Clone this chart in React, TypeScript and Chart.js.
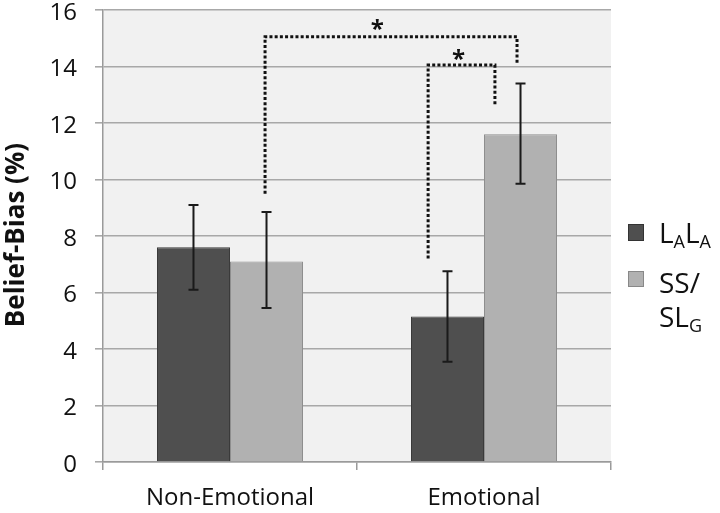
import React, { useEffect, useRef } from "react";
import { Chart, registerables } from "chart.js";

Chart.register(...registerables);

const categories = ["Non-Emotional", "Emotional"];
const seriesNames = ["LALA", "SS/SLG"];
const lalaValues = [7.6, 5.15];
const lalaErrLow = [6.1, 3.55];
const lalaErrHigh = [9.1, 6.75];
const sslgValues = [7.1, 11.6];
const sslgErrLow = [5.45, 9.85];
const sslgErrHigh = [8.85, 13.4];
const yTicks = [0, 2, 4, 6, 8, 10, 12, 14, 16];
const yTitle = "Belief-Bias (%)";

// significance brackets: x in category units, y in data units
const bracketX1 = [0.138, 0.78];
const bracketX2 = [1.13, 1.043];
const bracketYLeft = [9.5, 7.2];
const bracketYTop = [15.05, 14.05];
const bracketYRight = [14.05, 12.6];
const starX = [0.58, 0.9];
const starY = [15.5, 14.45];
const starLabel = ["*", "*"];

const FONT = "'Open Sans', sans-serif";
const DARK = "#4f4f4f";
const LIGHT = "#b1b1b1";

export default function App() {
  const ref = useRef<HTMLCanvasElement>(null);
  useEffect(() => {
    document.body.style.margin = "0";
    const canvas = ref.current!;
    const xPix = (chart: any, v: number) => {
      const xs = chart.scales.x;
      const p0 = xs.getPixelForValue(0);
      const p1 = xs.getPixelForValue(1);
      return p0 + v * (p1 - p0);
    };
    const plugin = {
      id: "custom",
      beforeDraw(chart: any) {
        const { ctx, chartArea } = chart;
        ctx.save();
        ctx.fillStyle = "#f1f1f1";
        ctx.fillRect(chartArea.left, chartArea.top, chartArea.right - chartArea.left, chartArea.bottom - chartArea.top);
        ctx.restore();
      },
      afterDatasetsDraw(chart: any) {
        const { ctx } = chart;
        const ys = chart.scales.y;
        ctx.save();
        // error bars
        const groups = [
          { lo: lalaErrLow, hi: lalaErrHigh, ds: 0 },
          { lo: sslgErrLow, hi: sslgErrHigh, ds: 1 },
        ];
        groups.forEach((g) => {
          const meta = chart.getDatasetMeta(g.ds);
          meta.data.forEach((bar: any, i: number) => {
            const x = bar.x;
            const y1 = ys.getPixelForValue(g.lo[i]);
            const y2 = ys.getPixelForValue(g.hi[i]);
            ctx.strokeStyle = "#1a1a1a";
            ctx.lineWidth = 2;
            ctx.beginPath();
            ctx.moveTo(x, y1);
            ctx.lineTo(x, y2);
            ctx.moveTo(x - 5, y1);
            ctx.lineTo(x + 5, y1);
            ctx.moveTo(x - 5, y2);
            ctx.lineTo(x + 5, y2);
            ctx.stroke();
          });
        });
        // brackets
        ctx.strokeStyle = "#111";
        ctx.lineWidth = 3;
        ctx.setLineDash([3, 2.2]);
        for (let i = 0; i < bracketX1.length; i++) {
          const x1 = xPix(chart, bracketX1[i]);
          const x2 = xPix(chart, bracketX2[i]);
          ctx.beginPath();
          ctx.moveTo(x1, ys.getPixelForValue(bracketYLeft[i]));
          ctx.lineTo(x1, ys.getPixelForValue(bracketYTop[i]));
          ctx.lineTo(x2, ys.getPixelForValue(bracketYTop[i]));
          ctx.lineTo(x2, ys.getPixelForValue(bracketYRight[i]));
          ctx.stroke();
        }
        ctx.setLineDash([]);
        ctx.fillStyle = "#111";
        ctx.font = `bold 24px ${FONT}`;
        ctx.textAlign = "center";
        ctx.textBaseline = "middle";
        for (let i = 0; i < starX.length; i++) {
          ctx.fillText(starLabel[i], xPix(chart, starX[i]), ys.getPixelForValue(starY[i]) + 6);
        }
        // y title
        ctx.save();
        ctx.translate(17, 235);
        ctx.rotate(-Math.PI / 2);
        ctx.font = `bold 26px ${FONT}`;
        ctx.fillStyle = "#111";
        ctx.textAlign = "center";
        ctx.textBaseline = "middle";
        ctx.fillText(yTitle, 0, 0);
        ctx.restore();
        // legend
        const drawSub = (parts: [string, boolean][], x: number, y: number) => {
          let cx = x;
          parts.forEach(([t, sub]) => {
            ctx.font = sub ? `18px ${FONT}` : `28px ${FONT}`;
            ctx.textAlign = "left";
            ctx.textBaseline = "alphabetic";
            ctx.fillText(t, cx, sub ? y + 5 : y);
            cx += ctx.measureText(t).width;
          });
        };
        ctx.fillStyle = DARK;
        ctx.strokeStyle = "#333";
        ctx.lineWidth = 1;
        ctx.fillRect(628, 224, 16, 17);
        ctx.strokeRect(628.5, 224.5, 15, 16);
        ctx.fillStyle = LIGHT;
        ctx.strokeStyle = "#888";
        ctx.fillRect(628, 271, 16, 16);
        ctx.strokeRect(628.5, 271.5, 15, 15);
        ctx.fillStyle = "#111";
        drawSub([["L", false], ["A", true], ["L", false], ["A", true]], 659, 243);
        drawSub([["SS/", false]], 659, 293);
        drawSub([["SL", false], ["G", true]], 659, 327);
        ctx.restore();
      },
    };
    const chart = new Chart(canvas, {
      type: "bar",
      data: {
        labels: categories,
        datasets: [
          { label: seriesNames[0], data: lalaValues, backgroundColor: DARK, borderColor: "#3a3a3a", borderWidth: 1, categoryPercentage: 0.575, barPercentage: 1 },
          { label: seriesNames[1], data: sslgValues, backgroundColor: LIGHT, borderColor: "#8e8e8e", borderWidth: 1, categoryPercentage: 0.575, barPercentage: 1 },
        ],
      },
      options: {
        responsive: false,
        animation: false,
        layout: { padding: { top: 10, right: 109, left: 0, bottom: 0 } },
        plugins: { legend: { display: false }, tooltip: { enabled: false } },
        scales: {
          x: {
            afterFit: (s: any) => { s.height = 51; s.paddingLeft = 0; s.paddingRight = 0; },
            grid: { display: true, drawOnChartArea: false, drawTicks: true, tickLength: 8, color: "#9a9a9a", lineWidth: 1.5, offset: true },
            border: { display: true, color: "#9a9a9a", width: 1.5 },
            ticks: { font: { family: FONT, size: 24 }, color: "#111", padding: 14 },
          },
          y: {
            min: 0,
            max: 16,
            afterFit: (s: any) => { s.width = 103; s.paddingTop = 0; s.paddingBottom = 0; },
            afterBuildTicks: (s: any) => { s.ticks = yTicks.map((v) => ({ value: v })); },
            grid: { color: "#a8a8a8", lineWidth: 1.6, tickLength: 8 },
            border: { display: true, color: "#9a9a9a", width: 1.5 },
            ticks: { font: { family: FONT, size: 24 }, color: "#111", padding: 18, labelOffset: 3 },
          },
        },
      },
      plugins: [plugin],
    });
    return () => chart.destroy();
  }, []);
  return <canvas ref={ref} width={720} height={513} style={{ display: "block" }} />;
}
